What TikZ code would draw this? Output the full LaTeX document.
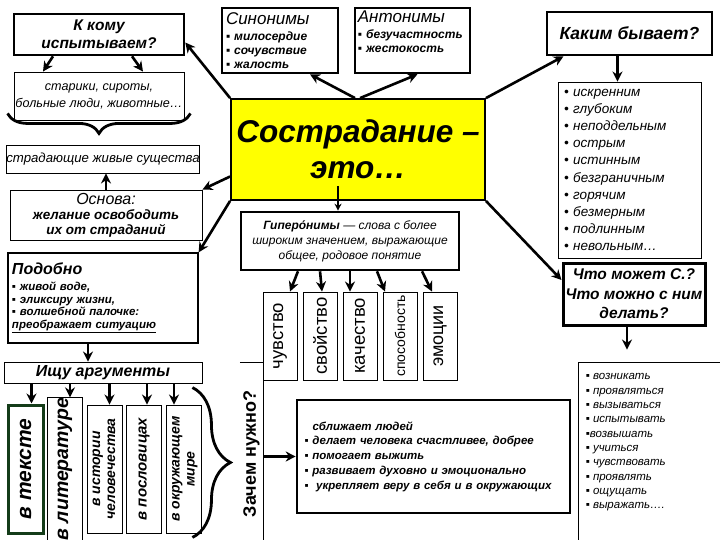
\documentclass[tikz,border=0pt]{standalone}
\usepackage{fontspec}
\setmainfont{Liberation Sans}
\usetikzlibrary{arrows.meta, decorations.pathreplacing}
\definecolor{mainyellow}{RGB}{255,255,0}
\definecolor{textgreen}{RGB}{20,60,25}
\newcommand{\fsz}[2]{\fontsize{#1}{#2}\selectfont}
\tikzstyle{thinbox} = [rectangle, draw=black, line width=0.9pt, fill=white,
align=center, inner sep=2pt]
\tikzstyle{thickbox} = [rectangle, draw=black, line width=2.6pt, fill=white,
align=center, inner sep=2pt]
\tikzstyle{argbox} = [thinbox, minimum width=35pt, minimum height=128pt, inner sep=0pt]
\tikzstyle{kindbox} = [thinbox, minimum width=34pt, minimum height=88pt, inner sep=0pt]
\tikzstyle{arrow} = [-{Stealth[length=10pt, width=10pt]}, line width=2.6pt]
\tikzstyle{bracket} = [decorate, decoration={brace, amplitude=20pt}, line width=2.8pt]

\begin{document}
\begin{tikzpicture}[x=1pt, y=-1pt]
    \useasboundingbox (0,0) rectangle (720,540);
    \clip (0,0) rectangle (720,540);

    % left column
    \node (kto) [thickbox, minimum width=170pt, minimum height=41pt,
    font=\fsz{15.5}{18}\bfseries\itshape] at (99,34.5) {К кому\\испытываем?};
    \node (old) [thinbox, minimum width=170pt, minimum height=48pt, inner xsep=0pt,
    font=\fsz{12.6}{17}\itshape] at (99,96) {старики, сироты,\\больные люди, животные…};
    \node (beings) [thinbox, minimum width=190pt, minimum height=28pt, inner xsep=0pt,
    font=\fsz{13.2}{16}\itshape] at (103,159) {страдающие живые существа};
    \node (basis) [thinbox, minimum width=192pt, minimum height=50pt,
    font=\fsz{13.5}{15}\bfseries\itshape] at (106,215)
    {{\fsz{16}{18}\mdseries Основа:}\\желание освободить\\их от страданий};
    \node (like) [thinbox, line width=1.2pt, minimum width=190pt, minimum height=90pt,
    text width=182pt, align=left, font=\fsz{11.5}{12.8}\bfseries\itshape] at (103,298)
    {{\fsz{16}{18}Подобно}\\[3pt]
    ▪ живой воде,\\▪ эликсиру жизни,\\▪ волшебной палочке:\\
    \underline{преображает ситуацию}};
    \node (seek) [thinbox, minimum width=198pt, minimum height=21pt, inner sep=0pt,
    font=\fsz{16}{16}\bfseries\itshape] at (103,372.5) {Ищу аргументы};

    \node (a1) [argbox, draw=textgreen, line width=3pt, font=\fsz{21}{21}\bfseries\itshape]
    at (25.5,469) {\rotatebox{90}{в тексте}};
    \node (a2) [argbox, font=\fsz{19.5}{20}\bfseries\itshape] at (65,469)
    {\rotatebox{90}{в литературе}};
    \node (a3) [argbox, font=\fsz{14}{15}\bfseries\itshape] at (104.5,469)
    {\rotatebox{90}{\begin{tabular}{@{}c@{}}в истории\\человечества\end{tabular}}};
    \node (a4) [argbox, font=\fsz{15}{15}\bfseries\itshape] at (144,469)
    {\rotatebox{90}{в пословицах}};
    \node (a5) [argbox, font=\fsz{14}{15}\bfseries\itshape] at (184,469)
    {\rotatebox{90}{\begin{tabular}{@{}c@{}}в окружающем\\мире\end{tabular}}};

    % top row
    \node (syn) [thickbox, minimum width=116pt, minimum height=65pt,
    text width=108pt, align=left, font=\fsz{12}{14}\bfseries\itshape] at (280,40.5)
    {{\fsz{17}{18}\mdseries Синонимы}\\[2pt]
    ▪ милосердие\\▪ сочувствие\\▪ жалость};
    \node (ant) [thickbox, minimum width=115pt, minimum height=65pt] at (412.5,40.5) {};
    \node (antlist) [anchor=north west, inner sep=0pt, text width=108pt, align=left,
    font=\fsz{12}{14}\bfseries\itshape] at ([xshift=4pt, yshift=-4pt]ant.north west)
    {{\fsz{17}{18}\mdseries Антонимы}\\[2pt]
    ▪ безучастность\\▪ жестокость};
    \node (main) [thinbox, fill=mainyellow, line width=1.8pt,
    minimum width=254pt, minimum height=101pt, font=\fsz{31.5}{36}\bfseries\itshape]
    at (358,149.5) {Сострадание –\\это…};
    \node (how) [thickbox, minimum width=165pt, minimum height=43pt,
    font=\fsz{17.5}{18}\bfseries\itshape] at (629.5,33.5) {Каким бывает?};
    \node (adj) [thinbox, minimum width=143pt, minimum height=176pt,
    text width=131pt, align=left, font=\fsz{13.5}{17.2}\itshape] at (629.5,170)
    {• искренним\\• глубоким\\• неподдельным\\• острым\\
    • истинным\\• безграничным\\• горячим\\• безмерным\\• подлинным\\• невольным…};

    % middle column
    \node (hyper) [thickbox, minimum width=218pt, minimum height=58pt,
    font=\fsz{12}{15}\itshape] at (350,241)
    {\textbf{Гиперо́нимы} — слова с более\\
    широким значением, выражающие\\общее, родовое понятие};
    \node (k1) [kindbox, font=\fsz{18.5}{18}] at (280,336) {\rotatebox{90}{чувство}};
    \node (k2) [kindbox, font=\fsz{18.5}{18}] at (320,336) {\rotatebox{90}{свойство}};
    \node (k3) [kindbox, font=\fsz{18.5}{18}] at (360,336) {\rotatebox{90}{качество}};
    \node (k4) [kindbox, font=\fsz{14}{14}] at (400,336) {\rotatebox{90}{способность}};
    \node (k5) [kindbox, font=\fsz{18}{18}] at (440,336) {\rotatebox{90}{эмоции}};

    \node (why) [minimum width=23pt, minimum height=182pt, inner sep=0pt,
    font=\fsz{18}{18}\bfseries] at (251.5,454) {\rotatebox{90}{Зачем нужно?}};
    \draw[line width=0.9pt] (why.north west) -| (why.south east);
    \node (use) [thickbox, minimum width=273pt, minimum height=113pt,
    text width=258pt, align=left, font=\fsz{11.5}{14.8}\bfseries\itshape] at (433.5,456.5)
    {\hspace*{8pt}сближает людей\\
    ▪ делает человека счастливее, добрее\\▪ помогает выжить\\
    ▪ развивает духовно и эмоционально\\▪ \ укрепляет веру в себя и в окружающих};

    % right column
    \node (can) [thickbox, line width=3pt, minimum width=142pt, minimum height=62pt,
    inner sep=0pt, font=\fsz{15.5}{19.5}\bfseries\itshape] at (634,294)
    {Что может С.?\\Что можно с ним\\делать?};
    \node (verbs) [thinbox, minimum width=147pt, minimum height=183pt] at (651.5,453.5) {};
    \node (verbslist) [anchor=north west, align=left, inner sep=0pt,
    font=\fsz{11.5}{14.3}\itshape] at ([xshift=8pt, yshift=-12pt]verbs.north west)
    {▪ возникать\\▪ проявляться\\▪ вызываться\\▪ испытывать\\
    ▪возвышать\\▪ учиться\\▪ чувствовать\\▪ проявлять\\▪ ощущать\\▪ выражать….};

    % connectors
    \draw[arrow] ([xshift=-46pt]kto.south) -- ([xshift=-56pt]old.north);
    \draw[arrow] ([xshift=33pt]kto.south) -- ([xshift=44pt]old.north);
    \draw[bracket] ([xshift=6pt, yshift=7pt]old.south east)
    -- ([xshift=-6pt, yshift=7pt]old.south west);
    \draw[arrow] (basis.north) -- (basis.north |- beings.south);
    \draw[arrow] ([xshift=-15pt]like.south) -- ([xshift=-15pt]like.south |- seek.north);
    \draw[arrow] ([xshift=6pt]a1.north |- seek.south) -- ([xshift=6pt]a1.north);
    \draw[arrow] ([xshift=5pt]a2.north |- seek.south) -- ([xshift=5pt]a2.north);
    \draw[arrow] ([xshift=5pt]a3.north |- seek.south) -- ([xshift=5pt]a3.north);
    \draw[arrow] ([xshift=3pt]a4.north |- seek.south) -- ([xshift=3pt]a4.north);
    \draw[arrow] ([xshift=-10pt]a5.north |- seek.south) -- ([xshift=-10pt]a5.north);
    \draw[bracket, decoration={brace, amplitude=38pt}]
    ([xshift=-9.5pt, yshift=17pt]a5.north east)
    -- ([xshift=-9.5pt, yshift=-4pt]a5.south east);

    \draw[arrow] (main.north west) -- ([yshift=-8pt]kto.east);
    \draw[arrow] ([xshift=-3pt]main.north) -- ([xshift=30pt]syn.south);
    \draw[arrow] ([xshift=2pt]main.north) -- ([xshift=5pt]ant.south);
    \draw[arrow] (main.north east) -- ([xshift=-66pt]how.south);
    \draw[arrow] ([xshift=-12pt]how.south) -- ([xshift=-12pt]adj.north);
    \draw[arrow] ([yshift=-27pt]main.west) -- (basis.north east);
    \draw[arrow] (main.south west) -- (like.north east);
    \draw[arrow] (main.south east) -- ([yshift=14pt]can.west);
    \draw[arrow] ([xshift=-7pt]can.south) -- ([xshift=-24.5pt, yshift=12pt]verbs.north);
    \draw[-{Stealth[length=7pt, width=7pt]}, line width=1.5pt]
    ([xshift=-20pt, yshift=15pt]main.south) -- ([xshift=-12pt]hyper.north);

    \draw[arrow] ([xshift=-52pt]hyper.south) -- ([xshift=10pt]k1.north);
    \draw[arrow] ([xshift=-30pt]hyper.south) -- ([xshift=2pt]k2.north);
    \draw[arrow] (hyper.south) -- ([xshift=-10pt]k3.north);
    \draw[arrow] ([xshift=27pt]hyper.south) -- ([xshift=-15pt]k4.north);
    \draw[arrow] ([xshift=72pt]hyper.south) -- ([xshift=-8pt]k5.north);
    \draw[arrow] (use.west -| why.east) -- (use.west);
\end{tikzpicture}
\end{document}
